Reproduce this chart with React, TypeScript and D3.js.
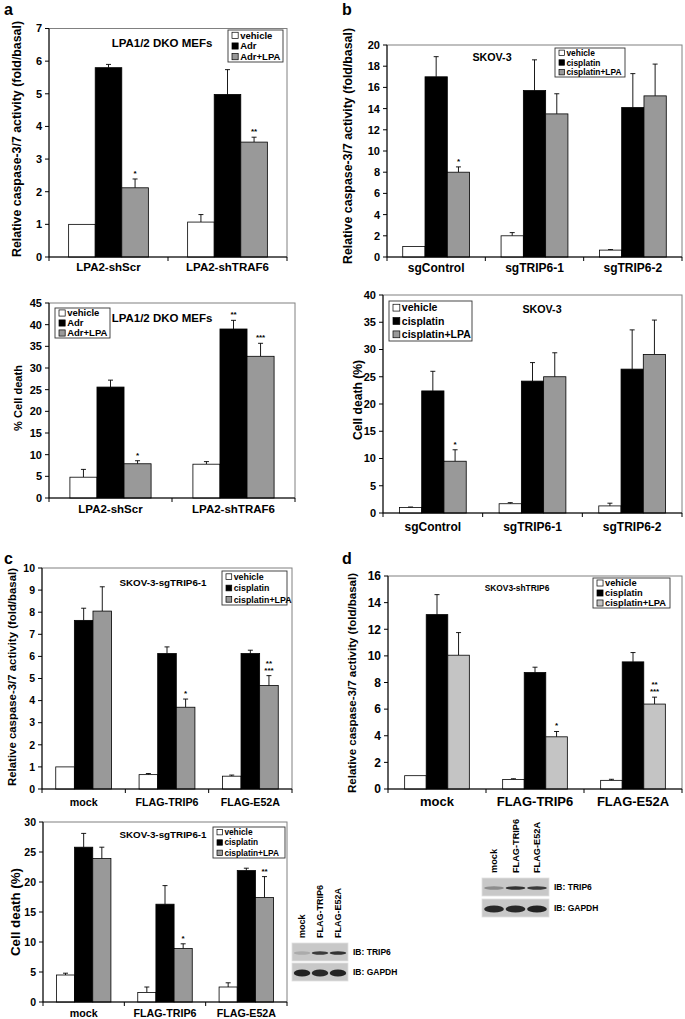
import React from "react";
import * as d3 from "d3";

// ---------- DATA ----------
const legendAdr = ["vehicle", "Adr", "Adr+LPA"];
const legendCis = ["vehicle", "cisplatin", "cisplatin+LPA"];

// Panel a (top): caspase-3/7, LPA1/2 DKO MEFs
const aTopCategories = ["LPA2-shScr", "LPA2-shTRAF6"];
const aTopVehicle = [1.0, 1.07];
const aTopVehicleErr = [0, 0.23];
const aTopAdr = [5.8, 4.98];
const aTopAdrErr = [0.1, 0.76];
const aTopAdrLPA = [2.12, 3.52];
const aTopAdrLPAErr = [0.27, 0.15];
const aTopStars = [["", ""], ["", ""], ["*", "**"]];
const aTopTicks = [0, 1, 2, 3, 4, 5, 6, 7];

// Panel a (bottom): % cell death
const aBotCategories = ["LPA2-shScr", "LPA2-shTRAF6"];
const aBotVehicle = [4.8, 7.8];
const aBotVehicleErr = [1.8, 0.6];
const aBotAdr = [25.6, 39.0];
const aBotAdrErr = [1.6, 2.0];
const aBotAdrLPA = [7.9, 32.7];
const aBotAdrLPAErr = [0.7, 3.0];
const aBotStars = [["", ""], ["", "**"], ["*", "***"]];
const aBotTicks = [0, 5, 10, 15, 20, 25, 30, 35, 40, 45];

// Panel b (top): caspase, SKOV-3
const bTopCategories = ["sgControl", "sgTRIP6-1", "sgTRIP6-2"];
const bTopVehicle = [1.0, 2.0, 0.65];
const bTopVehicleErr = [0, 0.3, 0.05];
const bTopCis = [17.0, 15.7, 14.1];
const bTopCisErr = [1.9, 2.9, 3.2];
const bTopCisLPA = [8.0, 13.5, 15.2];
const bTopCisLPAErr = [0.5, 1.9, 3.0];
const bTopStars = [["", "", ""], ["", "", ""], ["*", "", ""]];
const bTopTicks = [0, 2, 4, 6, 8, 10, 12, 14, 16, 18, 20];

// Panel b (bottom): cell death, SKOV-3
const bBotCategories = ["sgControl", "sgTRIP6-1", "sgTRIP6-2"];
const bBotVehicle = [1.0, 1.7, 1.3];
const bBotVehicleErr = [0.1, 0.2, 0.5];
const bBotCis = [22.4, 24.2, 26.4];
const bBotCisErr = [3.6, 3.4, 7.2];
const bBotCisLPA = [9.5, 25.0, 29.1];
const bBotCisLPAErr = [2.1, 4.4, 6.3];
const bBotStars = [["", "", ""], ["", "", ""], ["*", "", ""]];
const bBotTicks = [0, 5, 10, 15, 20, 25, 30, 35, 40];

// Panel c (top): caspase, SKOV-3-sgTRIP6-1
const cTopCategories = ["mock", "FLAG-TRIP6", "FLAG-E52A"];
const cTopVehicle = [1.0, 0.65, 0.58];
const cTopVehicleErr = [0, 0.05, 0.05];
const cTopCis = [7.63, 6.13, 6.13];
const cTopCisErr = [0.55, 0.3, 0.15];
const cTopCisLPA = [8.05, 3.7, 4.68];
const cTopCisLPAErr = [1.1, 0.37, 0.45];
const cTopStars = [["", "", ""], ["", "", ""], ["", "*", "**\n***"]];
const cTopTicks = [0, 1, 2, 3, 4, 5, 6, 7, 8, 9, 10];

// Panel c (bottom): cell death, SKOV-3-sgTRIP6-1
const cBotCategories = ["mock", "FLAG-TRIP6", "FLAG-E52A"];
const cBotVehicle = [4.5, 1.6, 2.5];
const cBotVehicleErr = [0.3, 0.9, 0.7];
const cBotCis = [25.8, 16.3, 21.9];
const cBotCisErr = [2.3, 3.1, 0.4];
const cBotCisLPA = [23.9, 8.9, 17.4];
const cBotCisLPAErr = [1.9, 0.8, 3.5];
const cBotStars = [["", "", ""], ["", "", ""], ["", "*", "**"]];
const cBotTicks = [0, 5, 10, 15, 20, 25, 30];

// Panel d: caspase, SKOV3-shTRIP6
const dCategories = ["mock", "FLAG-TRIP6", "FLAG-E52A"];
const dVehicle = [1.0, 0.72, 0.65];
const dVehicleErr = [0, 0.05, 0.08];
const dCis = [13.1, 8.75, 9.55];
const dCisErr = [1.5, 0.4, 0.7];
const dCisLPA = [10.05, 3.92, 6.38];
const dCisLPAErr = [1.7, 0.4, 0.52];
const dStars = [["", "", ""], ["", "", ""], ["", "*", "**\n***"]];
const dTicks = [0, 2, 4, 6, 8, 10, 12, 14, 16];

// Western blots (relative band intensity)
const blotLanes = ["mock", "FLAG-TRIP6", "FLAG-E52A"];
const blotRows = ["IB: TRIP6", "IB: GAPDH"];
const cBlotTrip6 = [0.12, 0.8, 0.85];
const cBlotGapdh = [0.95, 0.92, 0.95];
const dBlotTrip6 = [0.3, 0.85, 0.8];
const dBlotGapdh = [0.92, 0.92, 0.95];

// ---------- STYLE ----------
const FONT = "'Liberation Sans', Arial, Helvetica, sans-serif";
const WHITE = "#ffffff";
const BLACK = "#000000";
const GRAY = "#999999";
const LIGHTGRAY = "#c4c4c4";

type Series = { values: number[]; errs: number[]; fill: string };

type PanelProps = {
  left: number;
  right: number;
  top: number;
  bottom: number;
  ticks: number[];
  categories: string[];
  series: Series[];
  stars: string[][];
  groupFrac: number;
  tickSize: number;
  title: { text: string; x: number; y: number; size: number };
  legend: { x: number; y: number; w: number; h: number; size: number; labels: string[] };
  yLabel: { text: string; x: number; y: number; size: number; len: number };
  xLabelY: number;
  xLabelSize: number;
};

function Panel(p: PanelProps) {
  const yMax = p.ticks[p.ticks.length - 1];
  const y = d3.scaleLinear().domain([0, yMax]).range([p.bottom, p.top]);
  const x = d3.scaleBand<string>().domain(p.categories).range([p.left, p.right]).padding(0);
  const bw = x.bandwidth();
  const inner = d3
    .scaleBand<number>()
    .domain(p.series.map((_, i) => i))
    .range([(bw * (1 - p.groupFrac)) / 2, bw - (bw * (1 - p.groupFrac)) / 2])
    .padding(0);
  const barW = inner.bandwidth();
  const boundaries = [p.left, ...p.categories.map((c) => (x(c) as number) + bw)];
  const rowH = p.legend.h / p.legend.labels.length;
  const sw = Math.max(5, p.legend.size * 0.65);
  return (
    <g fontFamily={FONT} fontWeight="bold">
      <rect x={p.left} y={p.top} width={p.right - p.left} height={p.bottom - p.top} fill="none" stroke="#808080" strokeWidth={1} />
      {p.series.map((s, si) =>
        p.categories.map((c, ci) => {
          const bx = (x(c) as number) + (inner(si) as number);
          const v = s.values[ci];
          const top = y(v);
          const errTop = y(v + s.errs[ci]);
          const star = p.stars[si][ci];
          const lines = star ? star.split("\n") : [];
          return (
            <g key={`${si}-${ci}`}>
              {s.errs[ci] > 0 && (
                <g stroke={BLACK} strokeWidth={0.9}>
                  <line x1={bx + barW / 2} x2={bx + barW / 2} y1={top} y2={errTop} />
                  <line x1={bx + barW / 2 - 2.5} x2={bx + barW / 2 + 2.5} y1={errTop} y2={errTop} />
                </g>
              )}
              <rect x={bx} y={top} width={barW} height={p.bottom - top} fill={s.fill} stroke={BLACK} strokeWidth={0.8} />
              {lines.map((ln, li) => (
                <text key={li} x={bx + barW / 2} y={errTop - 3 - (lines.length - 1 - li) * 7} textAnchor="middle" fontSize={8}>
                  {ln}
                </text>
              ))}
            </g>
          );
        })
      )}
      <line x1={p.left} x2={p.left} y1={p.top} y2={p.bottom} stroke={BLACK} strokeWidth={1} />
      <line x1={p.left} x2={p.right} y1={p.bottom} y2={p.bottom} stroke={BLACK} strokeWidth={1} />
      {p.ticks.map((t) => (
        <g key={t}>
          <line x1={p.left - 4} x2={p.left} y1={y(t)} y2={y(t)} stroke={BLACK} />
          <text x={p.left - 7} y={y(t)} dy="0.36em" textAnchor="end" fontSize={p.tickSize}>
            {t}
          </text>
        </g>
      ))}
      {boundaries.map((bx, i) => (
        <line key={i} x1={bx} x2={bx} y1={p.bottom} y2={p.bottom + 4} stroke={BLACK} />
      ))}
      {p.categories.map((c) => (
        <text key={c} x={(x(c) as number) + bw / 2} y={p.xLabelY} textAnchor="middle" fontSize={p.xLabelSize}>
          {c}
        </text>
      ))}
      <text x={p.title.x} y={p.title.y} textAnchor="middle" fontSize={p.title.size}>
        {p.title.text}
      </text>
      <rect x={p.legend.x} y={p.legend.y} width={p.legend.w} height={p.legend.h} fill={WHITE} stroke="#333" strokeWidth={0.9} />
      {p.legend.labels.map((lab, i) => {
        const cy = p.legend.y + rowH * (i + 0.5);
        return (
          <g key={lab}>
            <rect x={p.legend.x + 4} y={cy - sw / 2} width={sw} height={sw} fill={p.series[i].fill} stroke={BLACK} strokeWidth={0.7} />
            <text x={p.legend.x + 6 + sw} y={cy} dy="0.36em" fontSize={p.legend.size}>
              {lab}
            </text>
          </g>
        );
      })}
      <text
        transform={`translate(${p.yLabel.x},${p.yLabel.y}) rotate(-90)`}
        textAnchor="middle"
        dy="0.36em"
        fontSize={p.yLabel.size}
        textLength={p.yLabel.len}
        lengthAdjust="spacingAndGlyphs"
      >
        {p.yLabel.text}
      </text>
    </g>
  );
}

type BlotProps = {
  left: number;
  right: number;
  top: number;
  rowH: number;
  gap: number;
  rows: number[][];
  labelSize: number;
  laneSize: number;
  laneBottom: number;
};

function Blot(b: BlotProps) {
  const lane = d3.scaleBand<string>().domain(blotLanes).range([b.left, b.right]).paddingInner(0.08).paddingOuter(0.1);
  const alpha = d3.scaleLinear().domain([0, 1]).range([0.05, 0.95]);
  return (
    <g fontFamily={FONT} fontWeight="bold">
      {blotLanes.map((l) => (
        <text
          key={l}
          transform={`translate(${(lane(l) as number) + lane.bandwidth() / 2},${b.laneBottom}) rotate(-90)`}
          dy="0.36em"
          fontSize={b.laneSize}
        >
          {l}
        </text>
      ))}
      {b.rows.map((row, ri) => {
        const ry = b.top + ri * (b.rowH + b.gap);
        return (
          <g key={ri}>
            <rect x={b.left} y={ry} width={b.right - b.left} height={b.rowH} fill="#c8c8c8" stroke="#e0e0e0" strokeWidth={0.8} />
            {row.map((v, li) => (
              <ellipse
                key={li}
                cx={(lane(blotLanes[li]) as number) + lane.bandwidth() / 2}
                cy={ry + b.rowH / 2 + 1}
                rx={lane.bandwidth() / 2}
                ry={ri === 0 ? 1.8 : 3.6}
                fill="#111"
                opacity={alpha(v)}
              />
            ))}
            <text x={b.right + 5} y={ry + b.rowH / 2} dy="0.36em" fontSize={b.labelSize}>
              {blotRows[ri]}
            </text>
          </g>
        );
      })}
    </g>
  );
}

function PanelLetter({ x, y, t }: { x: number; y: number; t: string }) {
  return (
    <text x={x} y={y} fontFamily={FONT} fontWeight="bold" fontSize={16}>
      {t}
    </text>
  );
}

const CASPASE = "Relative caspase-3/7 activity (fold/basal)";

export default function App() {
  return (
    <svg width={685} height={1019} style={{ position: "absolute", left: 0, top: 0, background: "#fff" }}>
      <rect x={0} y={0} width={685} height={1019} fill="#fff" />
      <PanelLetter x={4} y={15} t="a" />
      <PanelLetter x={342} y={15} t="b" />
      <PanelLetter x={4} y={564} t="c" />
      <PanelLetter x={342} y={564} t="d" />

      <Panel
        left={49}
        right={287}
        top={28.5}
        bottom={257}
        ticks={aTopTicks}
        categories={aTopCategories}
        series={[
          { values: aTopVehicle, errs: aTopVehicleErr, fill: WHITE },
          { values: aTopAdr, errs: aTopAdrErr, fill: BLACK },
          { values: aTopAdrLPA, errs: aTopAdrLPAErr, fill: GRAY },
        ]}
        stars={aTopStars}
        groupFrac={0.67}
        tickSize={11}
        title={{ text: "LPA1/2 DKO MEFs", x: 162, y: 47, size: 11.5 }}
        legend={{ x: 228, y: 30, w: 55, h: 32, size: 9.5, labels: legendAdr }}
        yLabel={{ text: CASPASE, x: 17, y: 139, size: 12.3, len: 236 }}
        xLabelY={271}
        xLabelSize={11.5}
      />
      <Panel
        left={49}
        right={295}
        top={303}
        bottom={498}
        ticks={aBotTicks}
        categories={aBotCategories}
        series={[
          { values: aBotVehicle, errs: aBotVehicleErr, fill: WHITE },
          { values: aBotAdr, errs: aBotAdrErr, fill: BLACK },
          { values: aBotAdrLPA, errs: aBotAdrLPAErr, fill: GRAY },
        ]}
        stars={aBotStars}
        groupFrac={0.66}
        tickSize={11}
        title={{ text: "LPA1/2 DKO MEFs", x: 162, y: 322, size: 11.5 }}
        legend={{ x: 55, y: 308, w: 55, h: 30, size: 9.5, labels: legendAdr }}
        yLabel={{ text: "% Cell death", x: 18, y: 398, size: 11.5, len: 66 }}
        xLabelY={513}
        xLabelSize={11.5}
      />
      <Panel
        left={387}
        right={682}
        top={45}
        bottom={257}
        ticks={bTopTicks}
        categories={bTopCategories}
        series={[
          { values: bTopVehicle, errs: bTopVehicleErr, fill: WHITE },
          { values: bTopCis, errs: bTopCisErr, fill: BLACK },
          { values: bTopCisLPA, errs: bTopCisLPAErr, fill: GRAY },
        ]}
        stars={bTopStars}
        groupFrac={0.68}
        tickSize={11}
        title={{ text: "SKOV-3", x: 492, y: 61, size: 10.7 }}
        legend={{ x: 555, y: 48, w: 70, h: 29, size: 8.4, labels: legendCis }}
        yLabel={{ text: CASPASE, x: 347, y: 146, size: 12.5, len: 236 }}
        xLabelY={272}
        xLabelSize={12}
      />
      <Panel
        left={383}
        right={682}
        top={295}
        bottom={513}
        ticks={bBotTicks}
        categories={bBotCategories}
        series={[
          { values: bBotVehicle, errs: bBotVehicleErr, fill: WHITE },
          { values: bBotCis, errs: bBotCisErr, fill: BLACK },
          { values: bBotCisLPA, errs: bBotCisLPAErr, fill: GRAY },
        ]}
        stars={bBotStars}
        groupFrac={0.67}
        tickSize={11}
        title={{ text: "SKOV-3", x: 542, y: 313, size: 10.7 }}
        legend={{ x: 389, y: 301, w: 83, h: 40, size: 10.5, labels: legendCis }}
        yLabel={{ text: "Cell death (%)", x: 358, y: 400, size: 12, len: 80 }}
        xLabelY={531}
        xLabelSize={12}
      />
      <Panel
        left={42}
        right={292}
        top={568}
        bottom={789}
        ticks={cTopTicks}
        categories={cTopCategories}
        series={[
          { values: cTopVehicle, errs: cTopVehicleErr, fill: WHITE },
          { values: cTopCis, errs: cTopCisErr, fill: BLACK },
          { values: cTopCisLPA, errs: cTopCisLPAErr, fill: GRAY },
        ]}
        stars={cTopStars}
        groupFrac={0.67}
        tickSize={10.5}
        title={{ text: "SKOV-3-sgTRIP6-1", x: 163, y: 586, size: 9.8 }}
        legend={{ x: 222, y: 571, w: 65, h: 34, size: 8.8, labels: legendCis }}
        yLabel={{ text: CASPASE, x: 12, y: 677, size: 11.5, len: 218 }}
        xLabelY={806}
        xLabelSize={10.7}
      />
      <Panel
        left={43}
        right={287}
        top={822}
        bottom={1002}
        ticks={cBotTicks}
        categories={cBotCategories}
        series={[
          { values: cBotVehicle, errs: cBotVehicleErr, fill: WHITE },
          { values: cBotCis, errs: cBotCisErr, fill: BLACK },
          { values: cBotCisLPA, errs: cBotCisLPAErr, fill: GRAY },
        ]}
        stars={cBotStars}
        groupFrac={0.67}
        tickSize={10.5}
        title={{ text: "SKOV-3-sgTRIP6-1", x: 163, y: 838, size: 9.8 }}
        legend={{ x: 213, y: 827, w: 72, h: 31, size: 8.3, labels: legendCis }}
        yLabel={{ text: "Cell death (%)", x: 15, y: 912, size: 13, len: 88 }}
        xLabelY={1017}
        xLabelSize={10.7}
      />
      <Panel
        left={388}
        right={682}
        top={576}
        bottom={789}
        ticks={dTicks}
        categories={dCategories}
        series={[
          { values: dVehicle, errs: dVehicleErr, fill: WHITE },
          { values: dCis, errs: dCisErr, fill: BLACK },
          { values: dCisLPA, errs: dCisLPAErr, fill: LIGHTGRAY },
        ]}
        stars={dStars}
        groupFrac={0.66}
        tickSize={12}
        title={{ text: "SKOV3-shTRIP6", x: 517, y: 591, size: 8.4 }}
        legend={{ x: 593, y: 578, w: 77, h: 30, size: 9.3, labels: legendCis }}
        yLabel={{ text: CASPASE, x: 352, y: 683, size: 11.5, len: 220 }}
        xLabelY={806}
        xLabelSize={13}
      />
      <Blot
        left={292}
        right={348}
        top={943}
        rowH={18}
        gap={2}
        rows={[cBlotTrip6, cBlotGapdh]}
        labelSize={8.5}
        laneSize={9}
        laneBottom={938}
      />
      <Blot
        left={482}
        right={549}
        top={878}
        rowH={18}
        gap={3}
        rows={[dBlotTrip6, dBlotGapdh]}
        labelSize={8.5}
        laneSize={9.2}
        laneBottom={873}
      />
    </svg>
  );
}
